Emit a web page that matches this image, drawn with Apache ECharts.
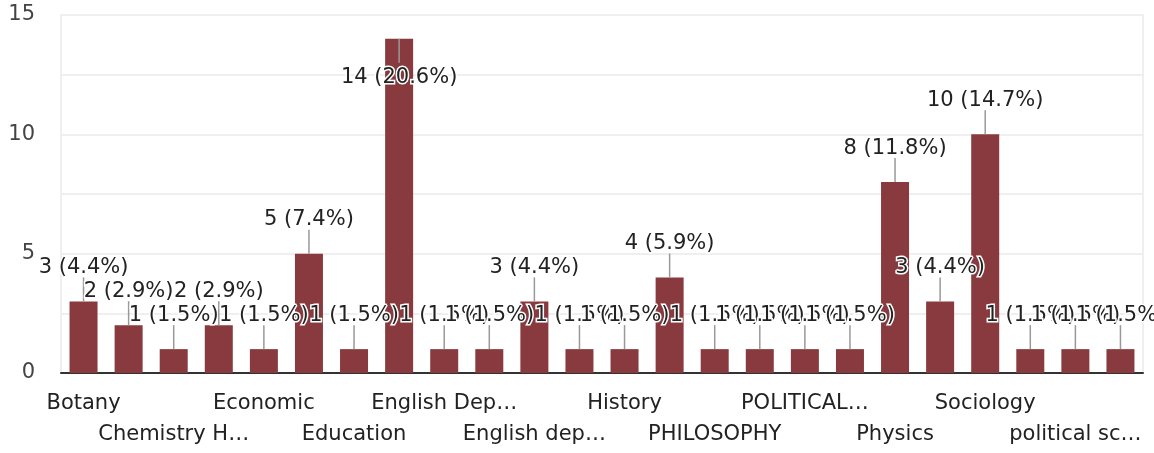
<!DOCTYPE html>
<html>
<head>
<meta charset="utf-8">
<script src="https://cdn.jsdelivr.net/npm/echarts@6/dist/echarts.min.js"></script>
<style>
  html, body { margin: 0; padding: 0; background: #fff; }
  #chart { width: 1154px; height: 453px; }
</style>
</head>
<body>
<div id="chart"></div>
<script>
// Category labels as visible in the picture ('' = label not shown / unreadable)
const categories = [
  'Botany', '', 'Chemistry H…', '', 'Economic', '', 'Education', '',
  'English Dep…', '', 'English dep…', '', 'History', '', 'PHILOSOPHY', '',
  'POLITICAL…', '', 'Physics', '', 'Sociology', '', 'political sc…', ''
];
// Response counts per category
const counts = [3, 2, 1, 2, 1, 5, 1, 14, 1, 1, 3, 1, 1, 4, 1, 1, 1, 1, 8, 3, 10, 1, 1, 1];
// Y-axis tick labels shown
const yTicks = [0, 5, 10, 15];

const total = counts.reduce((a, b) => a + b, 0);
const FONT = '21px "DejaVu Sans"';

const chart = echarts.init(document.getElementById('chart'), null, { renderer: 'canvas' });

chart.setOption({
  animation: false,
  backgroundColor: '#fff',
  grid: { left: 61, right: 11, top: 15, bottom: 80, show: true, borderColor: '#efefef', borderWidth: 2 },
  xAxis: {
    type: 'category',
    data: categories,
    axisTick: { show: false },
    axisLine: { lineStyle: { color: '#333', width: 2 } },
    axisLabel: {
      interval: 0,
      margin: 15,
      lineHeight: 31,
      fontSize: 21,
      fontFamily: 'DejaVu Sans',
      color: '#222',
      formatter: function (v, i) {
        if (i % 4 === 0) return v;
        if (i % 4 === 2) return '\n' + v;
        return '';
      }
    }
  },
  yAxis: {
    type: 'value',
    min: 0,
    max: 15,
    interval: 2.5,
    axisLine: { show: false },
    axisTick: { show: false },
    axisLabel: {
      margin: 26,
      fontSize: 21,
      fontFamily: 'DejaVu Sans',
      color: '#444',
      padding: [6, 0, 0, 0],
      formatter: function (v) { return yTicks.indexOf(v) >= 0 ? String(v) : ''; }
    },
    splitLine: { lineStyle: { color: '#efefef', width: 2 } }
  },
  series: [
    {
      type: 'bar',
      data: counts,
      barWidth: 28,
      z: 2,
      itemStyle: { color: '#883a3e' }
    },
    {
      type: 'custom',
      z: 5,
      data: counts.map((v, i) => [i, v]),
      renderItem: function (params, api) {
        const i = api.value(0);
        const v = api.value(1);
        const p = api.coord([i, v]);
        const cs = params.coordSys;
        const label = v + ' (' + (v / total * 100).toFixed(1) + '%)';
        let lineEnd, labelY;
        if (p[1] - 34 - 11 < cs.y - 15) {
          lineEnd = p[1] + 24;
          labelY = p[1] + 39;
        } else {
          lineEnd = p[1] - 24;
          labelY = p[1] - 34;
        }
        return {
          type: 'group',
          children: [
            {
              type: 'line',
              shape: { x1: p[0], y1: p[1], x2: p[0], y2: lineEnd },
              style: { stroke: '#999', lineWidth: 1.5 }
            },
            {
              type: 'text',
              style: {
                text: label,
                x: p[0],
                y: labelY,
                textAlign: 'center',
                textVerticalAlign: 'middle',
                font: FONT,
                fill: '#222',
                stroke: '#fff',
                lineWidth: 3
              }
            }
          ]
        };
      }
    }
  ]
});
</script>
</body>
</html>
